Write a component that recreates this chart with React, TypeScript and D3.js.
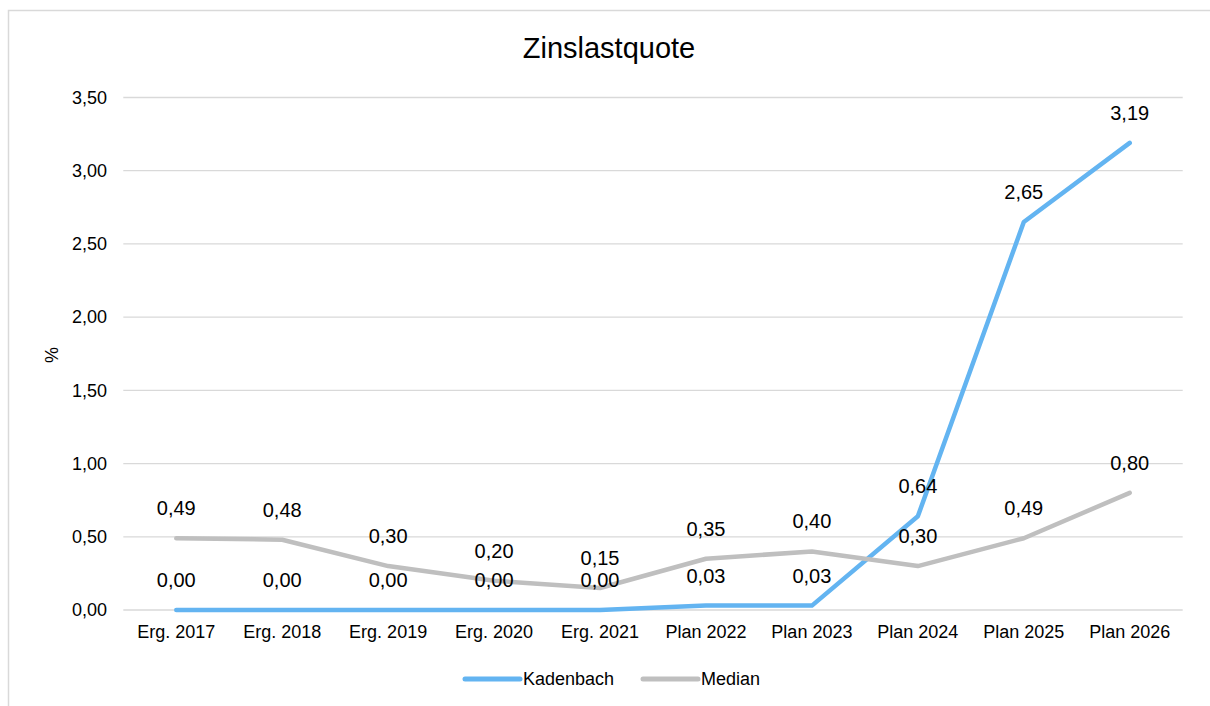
import React from "react";
import * as d3 from "d3";

const categories = ["Erg. 2017", "Erg. 2018", "Erg. 2019", "Erg. 2020", "Erg. 2021", "Plan 2022", "Plan 2023", "Plan 2024", "Plan 2025", "Plan 2026"];
const kadenbach = [0, 0, 0, 0, 0, 0.03, 0.03, 0.64, 2.65, 3.19];
const median = [0.49, 0.48, 0.3, 0.2, 0.15, 0.35, 0.4, 0.3, 0.49, 0.8];
const yTicks = [0, 0.5, 1, 1.5, 2, 2.5, 3, 3.5];
const seriesNames = ["Kadenbach", "Median"];

const W = 1210;
const H = 706;
const FONT = "'Liberation Sans', Arial, sans-serif";
const BLUE = "#63B4F1";
const GRAY = "#BFBFBF";

const fmt = (v: number) => v.toFixed(2).replace(".", ",");

export default function App() {
  const x = d3.scalePoint<string>().domain(categories).range([123.3, 1182.7]).padding(0.5);
  const y = d3.scaleLinear().domain([0, 3.5]).range([610, 97.5]);
  const line = d3
    .line<number>()
    .x((_, i) => x(categories[i]) as number)
    .y((d) => y(d));

  const series = [
    { name: seriesNames[0], data: kadenbach, color: BLUE },
    { name: seriesNames[1], data: median, color: GRAY },
  ];

  return (
    <svg
      width={W}
      height={H}
      style={{ position: "absolute", left: 0, top: 0, overflow: "hidden" }}
      fontFamily={FONT}
    >
      <rect x={0} y={0} width={W} height={H} fill="#fff" />
      <rect x={8.5} y={10.5} width={W + 20} height={H + 20} fill="none" stroke="#D9D9D9" strokeWidth={1.5} />
      <text x={609} y={57.5} textAnchor="middle" fontSize={29} fill="#000">
        Zinslastquote
      </text>
      {yTicks.map((t) => (
        <g key={t}>
          <line x1={123.3} x2={1182.7} y1={y(t)} y2={y(t)} stroke="#D9D9D9" strokeWidth={1.3} />
          <text x={107} y={y(t)} dy="0.35em" textAnchor="end" fontSize={18} fill="#000">
            {fmt(t)}
          </text>
        </g>
      ))}
      <text transform={`translate(58,355) rotate(-90)`} textAnchor="middle" fontSize={18} fill="#000">
        %
      </text>
      {categories.map((c) => (
        <text key={c} x={x(c)} y={638} textAnchor="middle" fontSize={18} fill="#000">
          {c}
        </text>
      ))}
      {series.map((s) => (
        <path
          key={s.name}
          d={line(s.data) || ""}
          fill="none"
          stroke={s.color}
          strokeWidth={4.5}
          strokeLinecap="round"
          strokeLinejoin="round"
        />
      ))}
      {series.map((s) =>
        s.data.map((v, i) => (
          <text
            key={s.name + i}
            x={x(categories[i])}
            y={y(v) - 23}
            textAnchor="middle"
            fontSize={20}
            fill="#000"
          >
            {fmt(v)}
          </text>
        ))
      )}
      {series.map((s, i) => {
        const lx = 465 + i * 178;
        return (
          <g key={s.name}>
            <line x1={lx} x2={lx + 55} y1={679} y2={679} stroke={s.color} strokeWidth={5} strokeLinecap="round" />
            <text x={lx + 58} y={679} dy="0.35em" fontSize={18} fill="#000">
              {s.name}
            </text>
          </g>
        );
      })}
    </svg>
  );
}
